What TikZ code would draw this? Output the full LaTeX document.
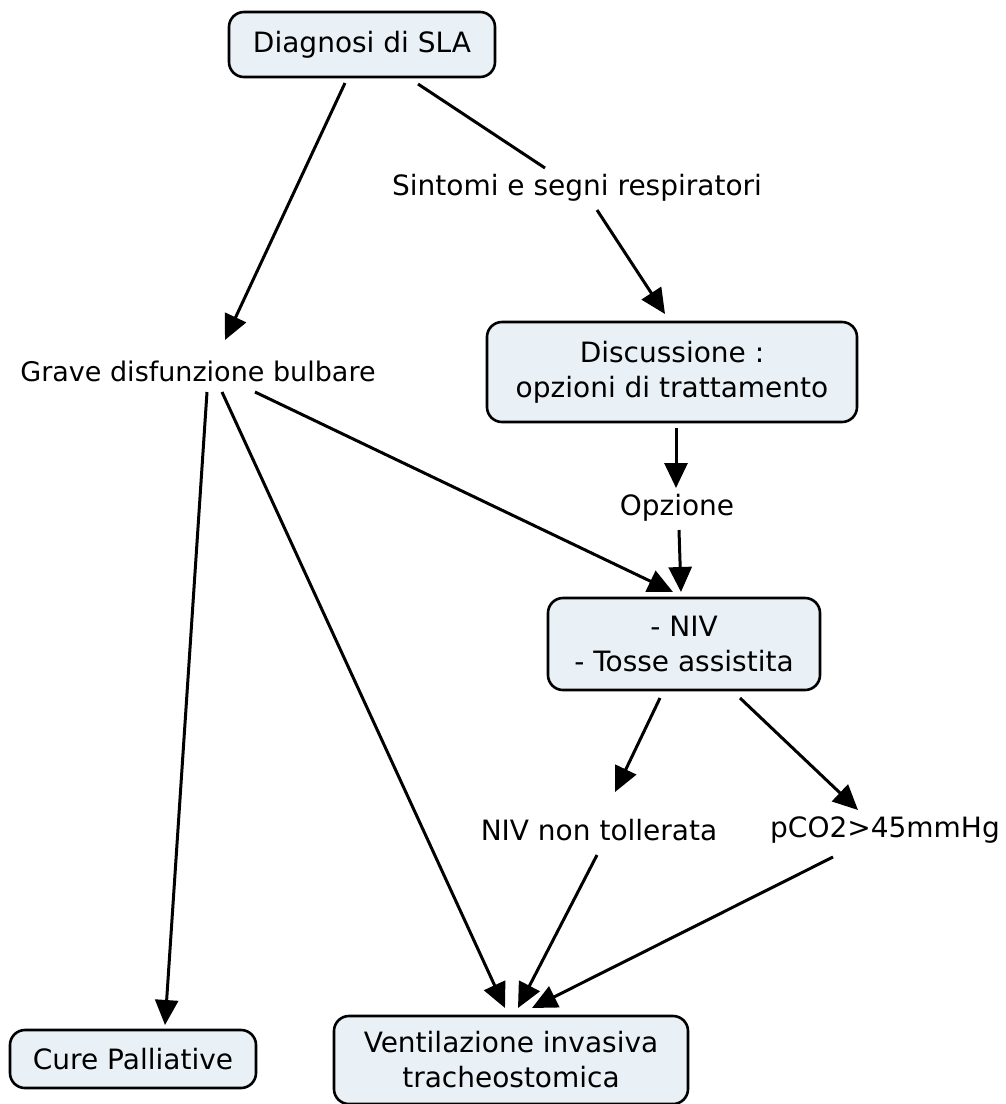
\documentclass[tikz,border=0pt]{standalone}
\usepackage{fontspec}
\setmainfont{DejaVu Sans}
\usetikzlibrary{arrows.meta}
\definecolor{boxfill}{RGB}{233,241,246}
\tikzset{
  box/.style={draw=black, line width=2.6pt, rounded corners=15pt, fill=boxfill, align=center, inner sep=0pt},
  lbl/.style={align=center, inner sep=2pt},
  conn/.style={line width=3pt, -{Triangle[length=25pt,width=23pt]}},
  plain/.style={line width=3pt},
}
\begin{document}
\begin{tikzpicture}[x=1pt,y=-1pt,font=\fontsize{28}{35}\selectfont]
\useasboundingbox (0,0) rectangle (1005,1104);
\node[box, minimum width=266pt, minimum height=65pt] (diag) at (362,44.5) {Diagnosi di SLA};
\node[lbl] (sint) at (577,188) {Sintomi e segni respiratori};
\node[box, minimum width=370pt, minimum height=100pt] (disc) at (672,372) {Discussione :\\opzioni di trattamento};
\node[lbl, font=\fontsize{27}{35}\selectfont] (grave) at (198,371) {Grave disfunzione bulbare};
\node[lbl] (opz) at (677,508) {Opzione};
\node[box, minimum width=272pt, minimum height=92pt] (niv) at (684,644) {- NIV\\- Tosse assistita};
\node[lbl] (nnt) at (599,830) {NIV non tollerata};
\node[lbl] (pco) at (885,830) {pCO2>45mmHg};
\node[box, minimum width=246pt, minimum height=58pt] (cure) at (133,1059) {Cure Palliative};
\node[box, minimum width=354pt, minimum height=88pt] (vent) at (511,1060) {Ventilazione invasiva\\tracheostomica};

\draw[conn] ([xshift=-17pt,yshift=-38.5pt]diag.center) -- ([xshift=27pt,yshift=31pt]grave.center);
\draw[plain] ([xshift=56pt,yshift=-39.5pt]diag.center) -- ([xshift=-32pt,yshift=20pt]sint.center);
\draw[conn] ([xshift=20pt,yshift=-22pt]sint.center) -- ([xshift=-7pt,yshift=58pt]disc.center);
\draw[conn] ([xshift=4pt,yshift=-56pt]disc.center) -- ([xshift=-1pt,yshift=20pt]opz.center);
\draw[conn] ([xshift=2pt,yshift=-22pt]opz.center) -- ([xshift=-3pt,yshift=52pt]niv.center);
\draw[conn] ([xshift=57pt,yshift=-21pt]grave.center) -- ([xshift=-11pt,yshift=52pt]niv.center);
\draw[conn] ([xshift=9pt,yshift=-21pt]grave.center) -- ([xshift=32pt,yshift=34pt]cure.center);
\draw[conn] ([xshift=24pt,yshift=-21pt]grave.center) -- ([xshift=-6pt,yshift=52pt]vent.center);
\draw[conn] ([xshift=-24pt,yshift=-54pt]niv.center) -- ([xshift=16pt,yshift=38pt]nnt.center);
\draw[conn] ([xshift=56pt,yshift=-54pt]niv.center) -- ([xshift=-27pt,yshift=20pt]pco.center);
\draw[conn] ([xshift=-2pt,yshift=-25pt]nnt.center) -- ([xshift=7pt,yshift=52pt]vent.center);
\draw[conn] ([xshift=-52pt,yshift=-27pt]pco.center) -- ([xshift=21pt,yshift=52pt]vent.center);
\end{tikzpicture}
\end{document}
